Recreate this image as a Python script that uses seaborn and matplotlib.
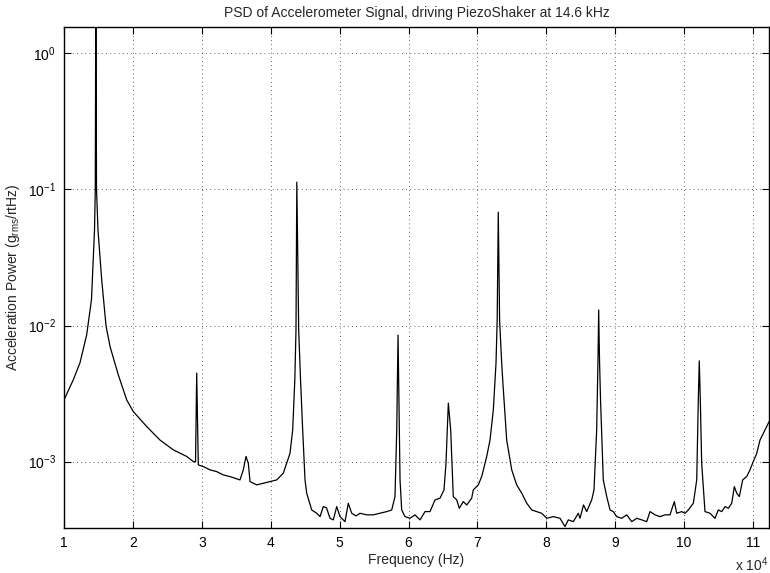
import matplotlib
matplotlib.use("Agg")
import matplotlib.pyplot as plt
import seaborn as sns
import pandas as pd
from matplotlib.ticker import FixedLocator, NullLocator

sns.set_style("ticks")
plt.rcParams['font.family'] = ['Liberation Sans', 'DejaVu Sans']
plt.rcParams['mathtext.fontset'] = 'custom'
plt.rcParams['mathtext.rm'] = 'Liberation Sans'
plt.rcParams['mathtext.it'] = 'Liberation Sans:italic'
plt.rcParams['mathtext.bf'] = 'Liberation Sans:bold'

# Frequency in units of 10^4 Hz, PSD in g_rms/rtHz
freq = [1.000, 1.135, 1.232, 1.329, 1.399, 1.443, 1.454, 1.462, 1.472, 1.493,
        1.547, 1.610, 1.668, 1.788, 1.910, 2.006, 2.200, 2.393, 2.586, 2.781,
        2.877, 2.909, 2.926, 2.949, 3.022, 3.119, 3.216, 3.312, 3.409, 3.554,
        3.602, 3.641, 3.675, 3.700, 3.797, 3.893, 3.990, 4.087, 4.183, 4.280,
        4.319, 4.350, 4.367, 4.379, 4.406, 4.433, 4.464, 4.498, 4.522, 4.595,
        4.668, 4.716, 4.763, 4.810, 4.861, 4.909, 4.958, 5.006, 5.078, 5.126,
        5.176, 5.238, 5.296, 5.393, 5.489, 5.586, 5.684, 5.756, 5.804, 5.829,
        5.848, 5.877, 5.901, 5.949, 6.022, 6.094, 6.167, 6.240, 6.312, 6.385,
        6.457, 6.515, 6.544, 6.578, 6.612, 6.650, 6.700, 6.737, 6.795, 6.845,
        6.917, 6.940, 7.013, 7.062, 7.135, 7.183, 7.231, 7.270, 7.287, 7.303,
        7.322, 7.350, 7.367, 7.425, 7.498, 7.570, 7.643, 7.716, 7.788, 7.861,
        7.933, 8.006, 8.102, 8.199, 8.271, 8.319, 8.392, 8.464, 8.489, 8.540,
        8.586, 8.659, 8.692, 8.731, 8.750, 8.760, 8.772, 8.787, 8.827, 8.877,
        8.925, 8.972, 9.022, 9.094, 9.167, 9.240, 9.312, 9.385, 9.457, 9.505,
        9.578, 9.650, 9.723, 9.795, 9.858, 9.893, 9.965, 10.013, 10.061, 10.134,
        10.183, 10.206, 10.220, 10.235, 10.255, 10.303, 10.376, 10.448, 10.496, 10.546,
        10.594, 10.642, 10.691, 10.729, 10.763, 10.801, 10.850, 10.908, 10.956, 11.004,
        11.054, 11.102, 11.174, 11.232]

psd = [2.84e-3, 3.99e-3, 5.32e-3, 8.54e-3, 1.55e-2, 5.06e-2, 9.96e-2, 3.0, 1.0e-1, 5.06e-2,
       2.17e-2, 9.95e-3, 7.01e-3, 4.34e-3, 2.84e-3, 2.33e-3, 1.81e-3, 1.44e-3, 1.22e-3, 1.09e-3,
       1.00e-3, 9.95e-4, 4.47e-3, 9.46e-4, 9.19e-4, 8.69e-4, 8.44e-4, 7.98e-4, 7.76e-4, 7.33e-4,
       8.69e-4, 1.09e-3, 9.73e-4, 7.13e-4, 6.74e-4, 6.93e-4, 7.13e-4, 7.33e-4, 8.22e-4, 1.15e-3,
       1.71e-3, 3.99e-3, 9.29e-3, 1.13e-1, 9.29e-3, 3.99e-3, 1.71e-3, 7.33e-4, 5.86e-4, 4.41e-4,
       4.17e-4, 3.94e-4, 4.67e-4, 4.57e-4, 3.83e-4, 3.73e-4, 4.67e-4, 3.94e-4, 3.62e-4, 4.94e-4,
       4.17e-4, 3.99e-4, 4.17e-4, 4.06e-4, 4.06e-4, 4.17e-4, 4.29e-4, 4.41e-4, 5.53e-4, 1.71e-3,
       8.5e-3, 7.33e-4, 4.41e-4, 3.94e-4, 3.83e-4, 4.06e-4, 3.73e-4, 4.29e-4, 4.29e-4, 5.23e-4,
       5.38e-4, 6.19e-4, 9.73e-4, 2.69e-3, 1.71e-3, 5.53e-4, 5.23e-4, 4.54e-4, 5.08e-4, 4.80e-4,
       5.38e-4, 6.19e-4, 6.74e-4, 7.76e-4, 1.09e-3, 1.44e-3, 2.40e-3, 5.29e-3, 1.10e-2, 6.8e-2,
       1.10e-2, 5.60e-3, 3.99e-3, 1.44e-3, 8.69e-4, 6.74e-4, 5.86e-4, 4.94e-4, 4.41e-4, 4.29e-4,
       4.17e-4, 3.83e-4, 3.94e-4, 3.83e-4, 3.33e-4, 3.73e-4, 3.62e-4, 4.17e-4, 3.83e-4, 4.80e-4,
       4.29e-4, 5.23e-4, 6.19e-4, 1.71e-3, 5.60e-3, 1.3e-2, 5.60e-3, 2.84e-3, 7.33e-4, 5.53e-4,
       4.41e-4, 4.29e-4, 3.94e-4, 3.83e-4, 4.06e-4, 3.62e-4, 3.83e-4, 3.73e-4, 3.62e-4, 4.29e-4,
       4.06e-4, 3.94e-4, 4.06e-4, 4.06e-4, 5.08e-4, 4.17e-4, 4.29e-4, 4.17e-4, 4.41e-4, 4.94e-4,
       7.33e-4, 2.84e-3, 5.50e-3, 2.84e-3, 9.73e-4, 4.29e-4, 4.17e-4, 3.83e-4, 4.41e-4, 4.29e-4,
       4.67e-4, 4.54e-4, 4.94e-4, 6.55e-4, 5.86e-4, 5.53e-4, 7.33e-4, 7.76e-4, 8.69e-4, 1.00e-3,
       1.15e-3, 1.44e-3, 1.71e-3, 1.96e-3]

xticks = [1, 2, 3, 4, 5, 6, 7, 8, 9, 10, 11]
xticklabels = ['1', '2', '3', '4', '5', '6', '7', '8', '9', '10', '11']
yticks = [1e-3, 1e-2, 1e-1, 1e0]
yticklabels = [r'$10^{-3}$', r'$10^{-2}$', r'$10^{-1}$', r'$10^{0}$']

df = pd.DataFrame({'freq': freq, 'psd': psd})

fig = plt.figure(figsize=(7.7, 5.73), dpi=100)
ax = fig.add_axes([64/770, 1-528/573, (769-64)/770, (528-26.7)/573])

sns.lineplot(data=df, x='freq', y='psd', estimator=None, sort=False,
             color='black', linewidth=0.9, ax=ax)

ax.set_yscale('log')
ax.set_xlim(1, 11.232)
ax.set_ylim(3.25e-4, 1.57)

ax.xaxis.set_major_locator(FixedLocator(xticks))
ax.set_xticklabels(xticklabels)
ax.yaxis.set_major_locator(FixedLocator(yticks))
ax.yaxis.set_minor_locator(NullLocator())
ax.set_yticklabels(yticklabels)

ax.grid(True, which='major', linestyle=(0, (1, 4)), color='black', linewidth=0.6, alpha=0.8)
ax.tick_params(direction='in', top=True, right=True, length=5, width=0.8,
               labelsize=10, colors='black', pad=6)
for s in ax.spines.values():
    s.set_color('black')
    s.set_linewidth(1.0)

ax.set_title('PSD of Accelerometer Signal, driving PiezoShaker at 14.6 kHz',
             fontsize=10, pad=7)
ax.set_xlabel('Frequency (Hz)', fontsize=10, labelpad=2)
ax.set_ylabel(r'Acceleration Power (g$_{\mathrm{rms}}$/rtHz)', fontsize=10, labelpad=4)

fig.text(735/770, 1-565/573, r'x 10$^{4}$', fontsize=10, ha='left', va='center')

fig.savefig('out.png', dpi=100)
